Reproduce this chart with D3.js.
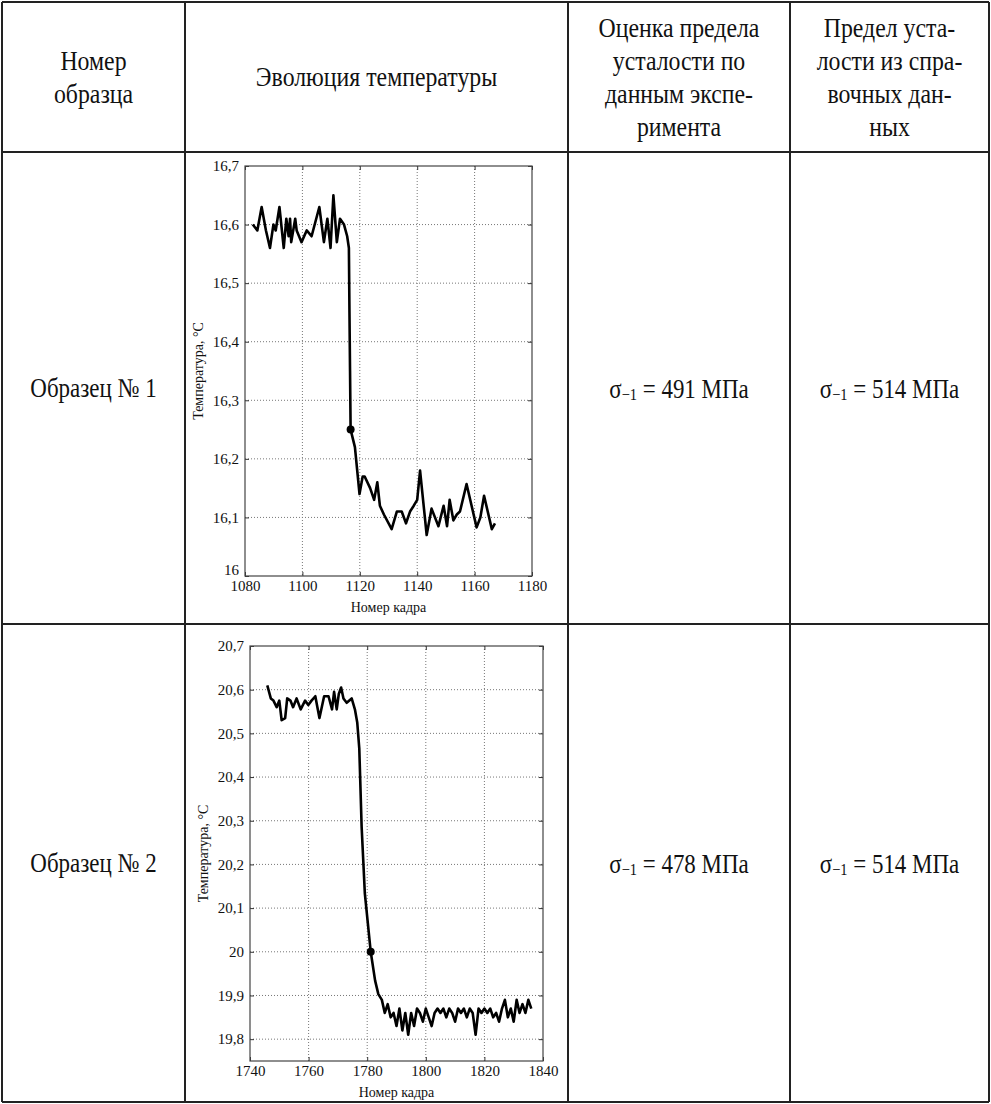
<!DOCTYPE html>
<html>
<head>
<meta charset="utf-8" />
<title>Эволюция температуры</title>
<style>
html, body { margin: 0; padding: 0; background: #fff; }
</style>
</head>
<body>
<div id="chart"></div>
<script src="https://d3js.org/d3.v7.min.js"></script>
<script>

// Таблица
var headers = [
  ["Номер", "образца"],
  ["Эволюция температуры"],
  ["Оценка предела", "усталости по", "данным экспе-", "римента"],
  ["Предел уста-", "лости из спра-", "вочных дан-", "ных"]
];
var samples = ["Образец № 1", "Образец № 2"];
var sigmaExp = ["491", "478"];
var sigmaRef = ["514", "514"];

// Образец 1
var frames1 = [1082.7, 1084.3, 1085.8, 1087.3, 1088.7, 1089.9, 1090.7, 1092.0, 1093.5, 1094.4,
  1095.2, 1095.7, 1096.1, 1097.5, 1098.0, 1099.7, 1101.5, 1103.2, 1105.9, 1107.5,
  1108.7, 1109.8, 1110.8, 1112.0, 1113.1, 1114.5, 1115.6, 1116.2, 1116.4, 1116.6,
  1116.8, 1118.3, 1119.9, 1121.0, 1121.7, 1123.6, 1125.0, 1126.1, 1127.0, 1128.4,
  1131.1, 1132.9, 1134.6, 1136.1, 1137.5, 1138.8, 1140.0, 1141.0, 1143.3, 1145.0,
  1147.4, 1149.2, 1150.4, 1151.3, 1152.6, 1153.8, 1154.9, 1157.2, 1160.7, 1162.0,
  1163.3, 1166.0, 1167.1];
var temps1 = [16.60, 16.59, 16.63, 16.59, 16.56, 16.60, 16.59, 16.63, 16.56, 16.61,
  16.58, 16.61, 16.57, 16.61, 16.59, 16.57, 16.59, 16.58, 16.63, 16.57,
  16.61, 16.56, 16.65, 16.57, 16.61, 16.60, 16.58, 16.56, 16.45, 16.35,
  16.25, 16.22, 16.14, 16.17, 16.17, 16.15, 16.13, 16.16, 16.12, 16.105,
  16.08, 16.11, 16.11, 16.09, 16.11, 16.12, 16.13, 16.18, 16.07, 16.115,
  16.085, 16.12, 16.085, 16.13, 16.095, 16.105, 16.11, 16.157, 16.083, 16.10,
  16.137, 16.08, 16.09];
var mark1 = [1116.8, 16.25];
var xTicks1 = [1080, 1100, 1120, 1140, 1160, 1180];
var yTicks1 = [16, 16.1, 16.2, 16.3, 16.4, 16.5, 16.6, 16.7];

// Образец 2
var frames2 = [1745.9, 1747.1, 1748.0, 1749.1, 1750.0, 1750.8, 1752.0, 1752.7, 1753.8, 1754.7,
  1755.9, 1757.3, 1758.8, 1759.9, 1761.0, 1762.3, 1763.0, 1763.7, 1765.3, 1766.8,
  1768.0, 1768.7, 1769.6, 1770.3, 1771.1, 1771.9, 1773.0, 1774.7, 1775.8, 1776.6,
  1777.3, 1778.1, 1779.2, 1781.2, 1782.7, 1783.8, 1785, 1786, 1787, 1788,
  1789, 1790, 1791, 1792, 1793, 1794, 1795, 1796, 1797, 1798,
  1799, 1800, 1801, 1802, 1803, 1804, 1805, 1806, 1807, 1808,
  1809, 1810, 1811, 1812, 1813, 1814, 1815, 1816, 1817, 1818,
  1819, 1820, 1821, 1822, 1823, 1824, 1825, 1826, 1827, 1828,
  1829, 1830, 1831, 1832, 1833, 1834, 1835, 1836];
var temps2 = [20.61, 20.58, 20.575, 20.56, 20.575, 20.53, 20.535, 20.58, 20.575, 20.56,
  20.58, 20.555, 20.575, 20.565, 20.575, 20.585, 20.56, 20.535, 20.585, 20.585,
  20.555, 20.595, 20.555, 20.59, 20.605, 20.58, 20.57, 20.58, 20.555, 20.525,
  20.465, 20.286, 20.133, 20.0, 19.934, 19.903, 19.89, 19.86, 19.88, 19.85,
  19.86, 19.83, 19.87, 19.82, 19.86, 19.81, 19.86, 19.83, 19.87, 19.86,
  19.84, 19.87, 19.85, 19.83, 19.86, 19.87, 19.86, 19.87, 19.85, 19.87,
  19.86, 19.84, 19.87, 19.86, 19.87, 19.85, 19.87, 19.86, 19.81, 19.87,
  19.86, 19.87, 19.86, 19.87, 19.85, 19.86, 19.84, 19.87, 19.89, 19.85,
  19.87, 19.84, 19.89, 19.86, 19.88, 19.86, 19.89, 19.87];
var mark2 = [1781.2, 20.0];
var xTicks2 = [1740, 1760, 1780, 1800, 1820, 1840];
var yTicks2 = [19.8, 19.9, 20, 20.1, 20.2, 20.3, 20.4, 20.5, 20.6, 20.7];

var W = 991, H = 1104;
var colX = [2, 185, 568, 790, 989];
var rowY = [2, 152, 624, 1102];
var SERIF = "'Liberation Serif', 'Times New Roman', Times, serif";

var svg = d3.select("#chart").append("svg")
  .attr("width", W).attr("height", H);

var fmt = d3.formatLocale({decimal: ",", thousands: "", grouping: [3], currency: ["", ""]}).format("~g");

// текст с горизонтальным сжатием, как в оригинале
function label(x, y, size, str) {
  return svg.append("text")
    .attr("transform", "translate(" + x + "," + y + ") scale(0.85,1)")
    .attr("text-anchor", "middle").attr("dominant-baseline", "central")
    .attr("font-family", SERIF).style("font-family", SERIF)
    .style("font-size", size + "px").style("fill", "#111")
    .text(str);
}

// линии таблицы
colX.forEach(function(x) {
  svg.append("line").attr("x1", x).attr("x2", x).attr("y1", rowY[0]).attr("y2", rowY[3])
    .attr("stroke", "#222").attr("stroke-width", 2);
});
rowY.forEach(function(y) {
  svg.append("line").attr("x1", colX[0]).attr("x2", colX[4]).attr("y1", y).attr("y2", y)
    .attr("stroke", "#222").attr("stroke-width", 2);
});

// шапка
var lineH = 33;
headers.forEach(function(lines, i) {
  var cx = (colX[i] + colX[i + 1]) / 2;
  var cy = (rowY[0] + rowY[1]) / 2;
  var y0 = cy - (lines.length - 1) * lineH / 2;
  lines.forEach(function(t, j) {
    label(cx, y0 + j * lineH, 28, t);
  });
});

// строки
function sigmaText(cx, cy, val) {
  var t = label(cx, cy, 27, null);
  t.append("tspan").text("σ");
  t.append("tspan").style("font-size", "17px").attr("dy", 6).text("−1");
  t.append("tspan").attr("dy", -6).text(" = " + val + " МПа");
}

samples.forEach(function(s, i) {
  var cy = (rowY[i + 1] + rowY[i + 2]) / 2;
  label((colX[0] + colX[1]) / 2, cy, 27, s);
  sigmaText((colX[2] + colX[3]) / 2, cy, sigmaExp[i]);
  sigmaText((colX[3] + colX[4]) / 2, cy, sigmaRef[i]);
});

// графики
function drawPlot(box, frames, temps, mark, xTicks, yTicks, yMin) {
  var x = d3.scaleLinear().domain([xTicks[0], xTicks[xTicks.length - 1]]).range([box.x0, box.x1]);
  var y = d3.scaleLinear().domain([yMin, yTicks[yTicks.length - 1]]).range([box.y1, box.y0]);
  var g = svg.append("g");

  // сетка
  g.selectAll(".gx").data(xTicks.slice(1, -1)).enter().append("line")
    .attr("x1", d => x(d)).attr("x2", d => x(d)).attr("y1", box.y0).attr("y2", box.y1)
    .attr("stroke", "#777").attr("stroke-width", 1).attr("stroke-dasharray", "1,2");
  g.selectAll(".gy").data(yTicks.filter(d => d > yMin && d < yTicks[yTicks.length - 1])).enter().append("line")
    .attr("x1", box.x0).attr("x2", box.x1).attr("y1", d => y(d)).attr("y2", d => y(d))
    .attr("stroke", "#777").attr("stroke-width", 1).attr("stroke-dasharray", "1,2");

  // оси
  var ax = g.append("g").attr("transform", "translate(0," + box.y1 + ")")
    .call(d3.axisBottom(x).tickValues(xTicks).tickFormat(fmt).tickSizeInner(-4).tickSizeOuter(0).tickPadding(4));
  var ay = g.append("g").attr("transform", "translate(" + box.x0 + ",0)")
    .call(d3.axisLeft(y).tickValues(yTicks).tickFormat(fmt).tickSizeInner(-4).tickSizeOuter(0).tickPadding(6));
  g.append("g").attr("transform", "translate(0," + box.y0 + ")")
    .call(d3.axisTop(x).tickValues(xTicks).tickFormat("").tickSizeInner(-4).tickSizeOuter(0));
  g.append("g").attr("transform", "translate(" + box.x1 + ",0)")
    .call(d3.axisRight(y).tickValues(yTicks).tickFormat("").tickSizeInner(-4).tickSizeOuter(0));
  g.selectAll(".domain").remove();
  g.selectAll(".tick line").attr("stroke", "#333");
  [ax, ay].forEach(function(a) {
    a.attr("font-family", null).attr("font-size", null);
    a.selectAll("text").style("font-family", SERIF).style("font-size", "15px").style("fill", "#111");
  });
  // нижняя подпись оси Y, совпадающая с углом, приподнята как у MATLAB
  ay.selectAll(".tick").filter(d => d === yMin).select("text").attr("dy", "-0.1em");

  g.append("rect").attr("x", box.x0).attr("y", box.y0)
    .attr("width", box.x1 - box.x0).attr("height", box.y1 - box.y0)
    .attr("fill", "none").attr("stroke", "#444").attr("stroke-width", 1.2);

  var line = d3.line().x(d => x(d[0])).y(d => y(d[1]));
  g.append("path").datum(d3.zip(frames, temps)).attr("d", line)
    .attr("fill", "none").attr("stroke", "#000").attr("stroke-width", 2.6)
    .attr("stroke-linejoin", "round");
  g.append("circle").attr("cx", x(mark[0])).attr("cy", y(mark[1])).attr("r", 4).attr("fill", "#000");

  g.append("text").attr("x", (box.x0 + box.x1) / 2).attr("y", box.y1 + 36)
    .attr("text-anchor", "middle").style("font-family", SERIF).style("font-size", "14px").style("fill", "#111")
    .text("Номер кадра");
  g.append("text")
    .attr("transform", "translate(" + (box.x0 - 42) + "," + ((box.y0 + box.y1) / 2) + ") rotate(-90)")
    .attr("text-anchor", "middle").style("font-family", SERIF).style("font-size", "14px").style("fill", "#111")
    .text("Температура, °C");
}

drawPlot({x0: 245, x1: 532, y0: 166, y1: 576}, frames1, temps1, mark1, xTicks1, yTicks1, 16);
drawPlot({x0: 250, x1: 543, y0: 646, y1: 1061}, frames2, temps2, mark2, xTicks2, yTicks2, 19.75);

</script>
</body>
</html>
